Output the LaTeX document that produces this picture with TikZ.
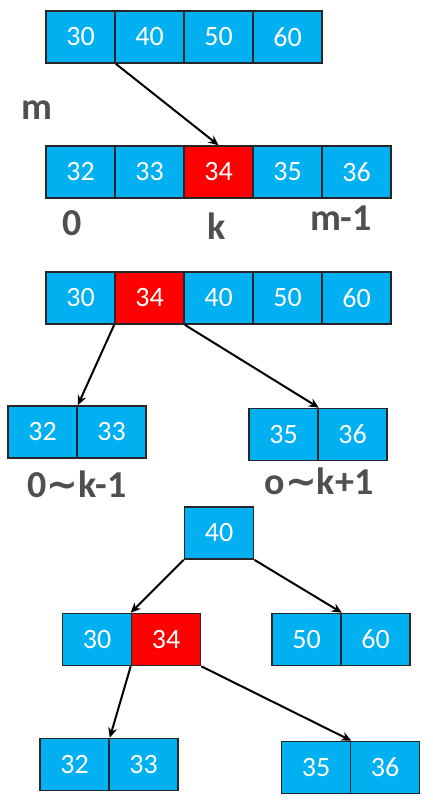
\documentclass[tikz,border=0pt]{standalone}
\usepackage{fontspec}
\setmainfont{Carlito}
\newfontfamily\symfont{DejaVu Sans}
\usetikzlibrary{arrows.meta,positioning}
\definecolor{cellblue}{HTML}{00B0F0}
\definecolor{inkgray}{HTML}{4F4F4F}

\begin{document}
\begin{tikzpicture}[x=1pt,y=-1pt, line width=1.6pt,
  cell/.style={rectangle,draw=black!85,fill=cellblue,text=white,minimum width=69pt,minimum height=52pt,inner sep=0pt,font=\fontsize{28}{28}\selectfont},
  hot/.style={cell,fill=red},
  ink/.style={text=inkgray,font=\fontsize{38}{38}\selectfont\bfseries}]%
\useasboundingbox (0,0) rectangle (433,807);
% first node
\node[cell] (a1) at (80.5,37) {30};
\node[cell] (a2) at (149.5,37) {40};
\node[cell] (a3) at (218.5,37) {50};
\node[cell] (a4) at (287.5,37) {60};
\node[ink] (m) at (37,110) {m};
% split node
\node[cell] (b1) at (80.5,172) {32};
\node[cell] (b2) at (149.5,172) {33};
\node[hot] (b3) at (218.5,172) {34};
\node[cell] (b4) at (287.5,172) {35};
\node[cell] (b5) at (356.5,172) {36};
\node[ink] (i0) at (72,223) {0};
\node[ink] (ik) at (217,226) {k};
\node[ink] (im) at (341,218) {m-1};
% after split
\node[cell] (c1) at (80.5,298) {30};
\node[hot] (c2) at (149.5,298) {34};
\node[cell] (c3) at (218.5,298) {40};
\node[cell] (c4) at (287.5,298) {50};
\node[cell] (c5) at (356.5,298) {60};
\node[cell] (d1) at (42.5,432) {32};
\node[cell] (d2) at (111.5,432) {33};
\node[cell] (e1) at (283.5,434.5) {35};
\node[cell] (e2) at (352.5,434.5) {36};
\node[ink] (dl) at (77,484) {0{\symfont ∼}k-1};
\node[ink] (el) at (319,481) {o{\symfont ∼}k+1};
% tree
\node[cell] (r) at (219,533) {40};
\node[cell] (f1) at (97,639.5) {30};
\node[hot] (f2) at (166,639.5) {34};
\node[cell] (g1) at (306.5,639.5) {50};
\node[cell] (g2) at (375.5,639.5) {60};
\node[cell] (h1) at (74.5,764.5) {32};
\node[cell] (h2) at (143.5,764.5) {33};
\node[cell] (k1) at (316,767.5) {35};
\node[cell] (k2) at (385,767.5) {36};
\begin{scope}[every edge/.style={draw=black,line width=2pt,-{Stealth[length=10pt,width=9pt]}}]
\draw (a1.south east) edge (b3.north);
\draw (c2.south west) edge (d1.north east);
\draw (c2.south east) edge (e1.north east);
\draw (r.south west) edge (f2.north west);
\draw (r.south east) edge (g1.north east);
\draw (f2.south west) edge (h1.north east);
\draw (f2.south east) edge (k1.north east);
\end{scope}
\end{tikzpicture}
\end{document}
